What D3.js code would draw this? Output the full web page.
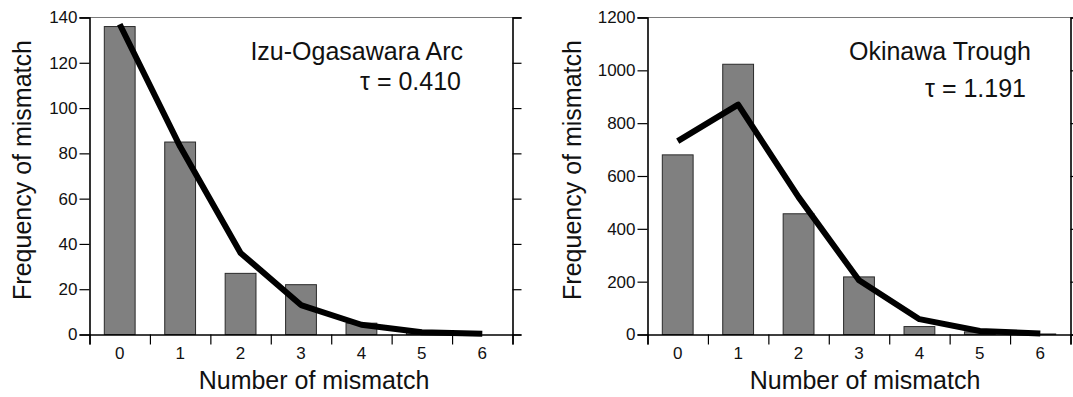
<!DOCTYPE html>
<html>
<head>
<meta charset="utf-8">
<script src="https://cdn.jsdelivr.net/npm/d3@7"></script>
<style>
  html, body { margin: 0; padding: 0; background: #ffffff; }
  svg { display: block; }
  text { font-family: "Liberation Sans", Arial, Helvetica, sans-serif; fill: #111; }
</style>
</head>
<body>
<svg id="chart" width="1073" height="397"></svg>
<script>
// ---- data ----
const categories = [0, 1, 2, 3, 4, 5, 6];
const xBoundaries = [0, 1, 2, 3, 4, 5, 6, 7];

const izuBars = [136, 85, 27, 22, 5, 1, 0];
const izuLine = [137, 83, 36, 13, 4.3, 1, 0.3];
const izuYTicks = [0, 20, 40, 60, 80, 100, 120, 140];
const izuTitle = "Izu-Ogasawara Arc";
const izuTau = "τ = 0.410";

const okiBars = [680, 1023, 457, 218, 30, 10, 2];
const okiLine = [732, 870, 520, 205, 58, 13, 4];
const okiYTicks = [0, 200, 400, 600, 800, 1000, 1200];
const okiTitle = "Okinawa Trough";
const okiTau = "τ = 1.191";

const xTitle = "Number of mismatch";
const yTitle = "Frequency of mismatch";

const svg = d3.select("#chart");

function panel(cfg) {
  const g = svg.append("g");
  const x = d3.scaleBand().domain(categories).range([cfg.x0, cfg.x1])
    .paddingInner(0.49).paddingOuter(0.245);
  const xl = d3.scaleLinear().domain([0, 7]).range([cfg.x0, cfg.x1]);
  const y = d3.scaleLinear().domain([0, cfg.ymax]).range([cfg.y0, cfg.y1]);

  // top border line (gray)
  g.append("line")
    .attr("x1", cfg.x0 - 10).attr("x2", cfg.x1 + 9)
    .attr("y1", y(cfg.ymax)).attr("y2", y(cfg.ymax))
    .attr("stroke", "#7a7a7a").attr("stroke-width", 1.2);

  // bars
  g.selectAll("rect.bar").data(cfg.bars).join("rect")
    .attr("class", "bar")
    .attr("x", (d, i) => x(categories[i]))
    .attr("width", x.bandwidth())
    .attr("y", d => y(d))
    .attr("height", d => y(0) - y(d))
    .attr("fill", "#808080")
    .attr("stroke", "#2a2a2a")
    .attr("stroke-width", 1);

  // line
  const line = d3.line()
    .x((d, i) => x(categories[i]) + x.bandwidth() / 2)
    .y(d => y(d));
  g.append("path").datum(cfg.line)
    .attr("d", line)
    .attr("fill", "none")
    .attr("stroke", "#000")
    .attr("stroke-width", 6)
    .attr("stroke-linejoin", "round");

  // left axis
  const ya = g.append("g").attr("transform", `translate(${cfg.x0},0)`)
    .call(d3.axisLeft(y).tickValues(cfg.yTicks).tickSize(10).tickPadding(2).tickFormat(d3.format("d")));
  ya.select(".domain").attr("stroke", "#000").attr("stroke-width", 1.6);
  ya.selectAll(".tick line").attr("stroke", "#000").attr("stroke-width", 1.2);
  ya.selectAll(".tick text").attr("font-size", 17).attr("fill", "#111")
    .attr("font-family", "Liberation Sans, Arial, sans-serif");

  // right axis
  const yr = g.append("g").attr("transform", `translate(${cfg.x1},0)`)
    .call(d3.axisRight(y).tickValues(cfg.yTicks).tickSize(9).tickFormat(""));
  yr.select(".domain").attr("stroke", "#000").attr("stroke-width", 1.6);
  yr.selectAll(".tick line").attr("stroke", "#000").attr("stroke-width", 1.2);

  // bottom axis ticks at boundaries
  const xb = g.append("g").attr("transform", `translate(0,${cfg.y0})`)
    .call(d3.axisBottom(xl).tickValues(xBoundaries).tickSize(10).tickFormat(""));
  xb.select(".domain").attr("stroke", "#000").attr("stroke-width", 1.6);
  xb.selectAll(".tick line").attr("stroke", "#000").attr("stroke-width", 1.2);

  // bottom axis labels at centers
  const xlab = g.append("g").attr("transform", `translate(0,${cfg.y0})`)
    .call(d3.axisBottom(x).tickSize(0).tickPadding(12));
  xlab.select(".domain").remove();
  xlab.selectAll(".tick text").attr("font-size", 17).attr("fill", "#111")
    .attr("font-family", "Liberation Sans, Arial, sans-serif");

  // titles
  g.append("text").attr("x", cfg.titleX).attr("y", 60)
    .attr("text-anchor", "end").attr("font-size", 25).text(cfg.title);
  g.append("text").attr("x", cfg.tauX).attr("y", cfg.tauY)
    .attr("text-anchor", "end").attr("font-size", 25).text(cfg.tau);

  // axis titles
  g.append("text").attr("x", cfg.xTitleX).attr("y", 389)
    .attr("text-anchor", "middle").attr("font-size", 25).text(xTitle);
  g.append("text")
    .attr("transform", `translate(${cfg.yTitleX},170) rotate(-90)`)
    .attr("text-anchor", "middle").attr("font-size", 25).text(yTitle);
}

panel({
  x0: 89.5, x1: 512.5, y0: 334.5, y1: 17.5, ymax: 140,
  bars: izuBars, line: izuLine, yTicks: izuYTicks,
  title: izuTitle, tau: izuTau, titleX: 463, tauX: 461, tauY: 90,
  xTitleX: 314, yTitleX: 31
});

panel({
  x0: 647.5, x1: 1070.5, y0: 334.5, y1: 17.5, ymax: 1200,
  bars: okiBars, line: okiLine, yTicks: okiYTicks,
  title: okiTitle, tau: okiTau, titleX: 1031, tauX: 1026, tauY: 97,
  xTitleX: 865, yTitleX: 581
});
</script>
</body>
</html>
